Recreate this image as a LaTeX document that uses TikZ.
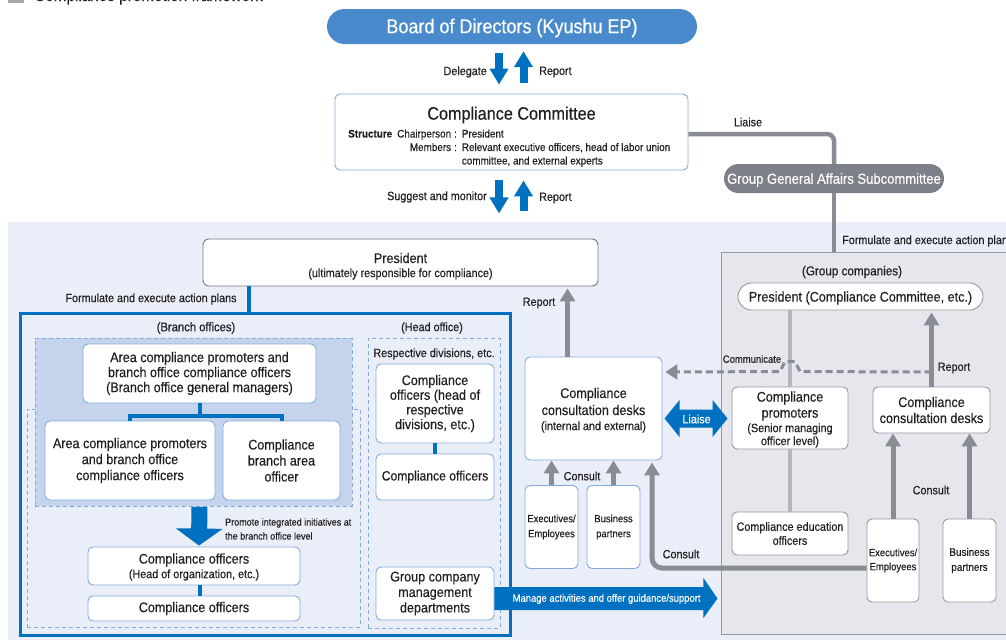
\documentclass[tikz,border=0pt]{standalone}
\usepackage{fontspec}
\setmainfont{Liberation Sans}[FakeStretch=0.9,FakeBold=0.35]
\usetikzlibrary{calc,arrows.meta}

\definecolor{kblue}{RGB}{0,112,192}
\definecolor{boardblue}{RGB}{72,138,203}
\definecolor{bgblue}{RGB}{233,238,248}
\definecolor{shade}{RGB}{196,212,237}
\definecolor{lineblue}{RGB}{132,170,220}
\definecolor{grayarrow}{RGB}{137,140,148}
\definecolor{graylight}{RGB}{180,182,188}
\definecolor{groupbg}{RGB}{230,231,236}
\definecolor{groupedge}{RGB}{150,152,160}
\definecolor{presedge}{RGB}{120,123,130}
\definecolor{txt}{RGB}{35,31,32}
\definecolor{subgray}{RGB}{125,128,137}

\newcommand{\fsz}[2]{\fontsize{#1pt}{#2pt}\selectfont}

\tikzset{
  every node/.style={text=txt},
  box/.style={draw=lineblue, fill=white, rounded corners=5pt, line width=0.9pt,
    align=center, inner sep=0pt},
  gbox/.style={box, draw=groupedge},
  lbl/.style={inner sep=0pt, align=center},
  boxtext/.style={font={\fsz{14}{16}}},
  bluebar/.style={draw=kblue, line width=3.5pt},
  fatarrow/.style={draw=kblue, line width=8pt, -{Triangle[length=16pt,width=18pt]}},
  grayarr/.style={draw=grayarrow, line width=5pt, -{Triangle[length=13pt,width=15pt]}},
  grayline/.style={draw=grayarrow, line width=4.5pt},
  lightline/.style={draw=graylight, line width=4pt},
  dashbox/.style={draw=lineblue, dash pattern=on 4pt off 3pt, line width=0.9pt, inner sep=0pt},
  dashline/.style={draw=grayarrow, line width=3pt, dash pattern=on 7pt off 4pt,
    -{Triangle[length=12pt,width=15pt]}},
}

\begin{document}
\begin{tikzpicture}[x=1pt,y=-1pt]
\useasboundingbox (0,0) rectangle (1006,640);
\fill[white] (0,0) rectangle (1006,640);

% heading of the chart
\fill[gray!70] (8,-10) rectangle (24,3);
\node[anchor=base west, inner sep=0pt, font={\fsz{17}{20}}] (title) at (34,1) {Compliance promotion framework};

% shaded lower area
\fill[bgblue] (8,222) rectangle (1006,640);

% group companies panel
\node[draw=groupedge, fill=groupbg, line width=0.9pt, minimum width=300pt, minimum height=382pt,
  anchor=north west, inner sep=0pt] (gbox) at (721,252) {};

% board and committee
\node[fill=boardblue, rounded corners=17.5pt, minimum width=370pt, minimum height=35pt,
  text=white, font={\fsz{20}{24}}] (board) at (512,26.5) {};
\node[lbl, text=white, font={\fsz{20}{24}}] (boardtext) at (512,28) {Board of Directors (Kyushu EP)};
\node[lbl, anchor=east, font={\fsz{12}{14}}] (ldelegate) at (487,72) {Delegate};
\node[lbl, anchor=west, font={\fsz{12}{14}}] (lreport1) at (539,72) {Report};

\node[box, minimum width=353pt, minimum height=76pt] (committee) at (511.5,132) {};
\node[lbl, font={\fsz{18}{20}}] (ctitle) at (511.5,115) {Compliance Committee};
\node[lbl, anchor=base west, font={\fsz{11}{13.5}}] (cstruct) at (348,137.5)
  {\begin{tabular}[t]{@{}l@{\hspace{5pt}}r@{\hspace{3pt}}c@{\hspace{5pt}}l@{}}
   \textbf{Structure} & Chairperson & : & President\\
   & Members & : & Relevant executive officers, head of labor union\\
   & & & committee, and external experts
   \end{tabular}};

\node[lbl, anchor=east, font={\fsz{12}{14}}] (lsuggest) at (487,197) {Suggest and monitor};
\node[lbl, anchor=west, font={\fsz{12}{14}}] (lreport2) at (539,198) {Report};

\node[fill=subgray, rounded corners=14.5pt, minimum width=220pt, minimum height=29pt] (sub) at (834,178.5) {};
\node[lbl, text=white, font={\fsz{14.5}{16}}] (subtext) at (834,180) {Group General Affairs Subcommittee};
\node[lbl, font={\fsz{12}{14}}] (lliaise) at (748,122) {Liaise};
\node[lbl, anchor=west, font={\fsz{12}{14}}] (lform2) at (842,241) {Formulate and execute action plans};

% company president
\node[draw=presedge, fill=white, rounded corners=6pt, line width=0.9pt, minimum width=395pt,
  minimum height=47pt, inner sep=0pt] (pres) at (400.5,262.5) {};
\node[lbl, font={\fsz{14}{16}}] (prestitle) at (400.5,258) {President};
\node[lbl, font={\fsz{12}{14}}] (pressub) at (400.5,274) {(ultimately responsible for compliance)};
\node[lbl, font={\fsz{12}{14}}] (lform1) at (151,299) {Formulate and execute action plans};

% branch offices and head office
\node[draw=kblue, line width=2.5pt, minimum width=490pt, minimum height=322pt,
  anchor=north west, inner sep=0pt] (outer) at (19,312) {};
\node[dashbox, minimum width=333pt, minimum height=218pt, anchor=north west] (branchlow) at (27,409) {};
\node[dashbox, fill=shade, minimum width=317pt, minimum height=168pt, anchor=north west] (branchtop) at (35,338) {};
\node[dashbox, minimum width=132pt, minimum height=290pt, anchor=north west] (headbox) at (368,338) {};
\node[lbl, font={\fsz{12.5}{14}}] (lbranch) at (196,328) {(Branch offices)};
\node[lbl, font={\fsz{12}{14}}] (lhead) at (432,328) {(Head office)};
\node[lbl, font={\fsz{12}{14}}] (ldiv) at (434,354) {Respective divisions, etc.};

\node[box, boxtext, font={\fsz{14}{15}}, minimum width=233pt, minimum height=59pt] (ab1) at (199.5,373.5)
  {Area compliance promoters and\\branch office compliance officers\\(Branch office general managers)};
\node[box, boxtext, minimum width=170pt, minimum height=79pt] (ab2) at (130,460.5)
  {Area compliance promoters\\and branch office\\compliance officers};
\node[box, boxtext, minimum width=117pt, minimum height=79pt] (ab3) at (281.5,460.5)
  {Compliance\\branch area\\officer};
\node[lbl, anchor=west, align=left, font={\fsz{10}{14}}] (lpromote) at (225,529)
  {Promote integrated initiatives at\\the branch office level};
\node[box, minimum width=212pt, minimum height=38pt] (co1) at (194,566) {};
\node[lbl, font={\fsz{14}{16}}] (co1a) at (194,560) {Compliance officers};
\node[lbl, font={\fsz{12}{14}}] (co1b) at (194,575) {(Head of organization, etc.)};
\node[box, boxtext, minimum width=212pt, minimum height=25pt] (co2) at (194,608.5) {Compliance officers};

\node[box, font={\fsz{14}{14.7}}, minimum width=118pt, minimum height=79pt] (h1) at (435,403.5)
  {Compliance\\officers (head of\\respective\\divisions, etc.)};
\node[box, font={\fsz{13.5}{16}}, minimum width=118pt, minimum height=46pt] (h2) at (435,477) {Compliance officers};
\node[box, font={\fsz{14}{15.5}}, minimum width=118pt, minimum height=53pt] (h3) at (435,593.5)
  {Group company\\management\\departments};

% consultation desks
\node[box, minimum width=137pt, minimum height=103pt] (desks) at (593.5,408.5) {};
\node[lbl, font={\fsz{14}{17}}] (desksa) at (593.5,401.5) {Compliance\\consultation desks};
\node[lbl, font={\fsz{12}{14}}] (desksb) at (593.5,427) {(internal and external)};
\node[lbl, font={\fsz{12}{14}}] (lreport3) at (539,303) {Report};
\node[box, font={\fsz{10.5}{15}}, minimum width=53pt, minimum height=83pt] (exec) at (551.5,527) {Executives/\\Employees};
\node[box, font={\fsz{10.5}{15}}, minimum width=53pt, minimum height=83pt] (bp) at (613.5,527) {Business\\partners};
\node[lbl, font={\fsz{12}{14}}] (lconsult1) at (582,476) {Consult};
\node[lbl, font={\fsz{12}{14}}] (lconsult2) at (681,554) {Consult};

% group companies content
\node[lbl, font={\fsz{13}{15}}] (lgroup) at (852,272) {(Group companies)};
\node[draw=groupedge, fill=white, line width=0.9pt, rounded corners=13.5pt, minimum width=245pt,
  minimum height=27pt, inner sep=0pt] (gpres) at (860.5,296.5) {};
\node[lbl, font={\fsz{14}{16}}] (gprestext) at (860.5,298) {President (Compliance Committee, etc.)};
\node[gbox, minimum width=116pt, minimum height=62pt] (gprom) at (790,418) {};
\node[lbl, font={\fsz{14}{16}}] (gproma) at (790,406) {Compliance\\promoters};
\node[lbl, font={\fsz{12}{13}}] (gpromb) at (790,435.5) {(Senior managing\\officer level)};
\node[gbox, font={\fsz{14}{16}}, minimum width=117pt, minimum height=46pt] (gdesk) at (931.5,410)
  {Compliance\\consultation desks};
\node[gbox, font={\fsz{12}{14}}, minimum width=116pt, minimum height=43pt] (gedu) at (790,533.5)
  {Compliance education\\officers};
\node[gbox, font={\fsz{10.5}{14}}, minimum width=52pt, minimum height=83pt] (gexec) at (893,560.5) {Executives/\\Employees};
\node[gbox, font={\fsz{11}{15}}, minimum width=53pt, minimum height=83pt] (gbp) at (969.5,560.5) {Business\\partners};
\node[lbl, font={\fsz{12}{14}}] (lreport4) at (954,368) {Report};
\node[lbl, font={\fsz{10.5}{12}}] (lcomm) at (752,359) {Communicate};
\node[lbl, font={\fsz{12}{14}}] (lconsult3) at (931,490) {Consult};

% ---- connectors ----
\draw[fatarrow] ($(board.south)+(-13,9)$) -- ($(committee.north)+(-12.5,-9)$);
\draw[fatarrow] ($(committee.north)+(12,-11)$) -- ($(board.south)+(11.5,7)$);
\draw[fatarrow] ($(committee.south)+(-12.5,10)$) -- ($(committee.south)+(-12.5,43)$);
\draw[fatarrow] ($(committee.south)+(12,41)$) -- ($(committee.south)+(12,10)$);

\draw[grayline, rounded corners=7pt] ($(committee.east)+(0,2)$) -| (sub.north);
\draw[grayline] (sub.south) -- (sub.south |- gbox.north);

\draw[draw=kblue, line width=4pt] ($(pres.south)+(-151.5,0)$) coordinate (pd) -- (pd |- outer.north);

\draw[draw=kblue, line width=4pt] (ab1.south) |- ($(ab2.north)+(0,-5)$) -- (ab2.north);
\draw[draw=kblue, line width=4pt] (ab1.south) |- ($(ab3.north)+(0,-5)$) -- (ab3.north);
\draw[draw=kblue, line width=16pt, -{Triangle[length=17pt,width=46pt]}]
  ($(branchtop.south)+(5.5,0)$) -- ($(co1.north)+(5,-1)$);
\draw[bluebar] ($(co1.south)+(6,0)$) -- ($(co2.north)+(6,0)$);
\draw[bluebar] (h1.south) -- (h2.north);

% manage arrow
\begin{scope}[shift={($(h3.east)+(0,5)$)}]
  \fill[kblue] (0,-11.5) -- (209,-11.5) -- (209,-20.5) -- (223,0) -- (209,19.5) -- (209,11.5) -- (0,11.5) -- cycle;
\end{scope}
\node[lbl, anchor=west, text=white, font={\fsz{10.5}{12}}] (lmanage) at ($(h3.east)+(18,5.5)$)
  {Manage activities and offer guidance/support};

% liaise double arrow
\begin{scope}[shift={($(gprom.west)+(0,0.5)$)}]
  \fill[kblue] (-67,0) -- (-52,-18.5) -- (-52,-9) -- (-19,-9) -- (-19,-18.5) -- (-4,0)
    -- (-19,18.5) -- (-19,9) -- (-52,9) -- (-52,18.5) -- cycle;
\end{scope}
\node[lbl, text=white, font={\fsz{12}{14}}] (lliaise2) at ($(gprom.west)+(-35,1)$) {Liaise};

% report and consult arrows
\draw[grayarr] ($(desks.north)+(-26,0)$) -- ($(desks.north |- pres.south)+(-26,2)$);
\draw[grayarr] (exec.north) -- (exec.north |- desks.south);
\draw[grayarr] (bp.north) -- (bp.north |- desks.south);
\draw[grayarr, rounded corners=10pt] ($(gexec.west)+(0,7.5)$) -| ($(desks.south)+(58.5,2)$);
\draw[grayarr] (gexec.north) -- (gexec.north |- gdesk.south);
\draw[grayarr] (gbp.north) -- (gbp.north |- gdesk.south);
\draw[grayarr] (gdesk.north) -- ($(gdesk.north |- gpres.south)+(0,2)$);
\draw[lightline] (gprom.north) -- (gprom.north |- gpres.south);
\draw[lightline] (gprom.south) -- (gedu.north);

\coordinate (cstart) at (931.5,372);
\draw[dashline] (cstart) -- ($(gprom.north)+(10,-15)$) -- ($(gprom.north)+(5,-25)$)
  -- ($(gprom.north)+(-5,-25)$) -- ($(gprom.north)+(-10,-15)$) -- ($(desks.east |- cstart)+(3,0)$);
\end{tikzpicture}
\end{document}
